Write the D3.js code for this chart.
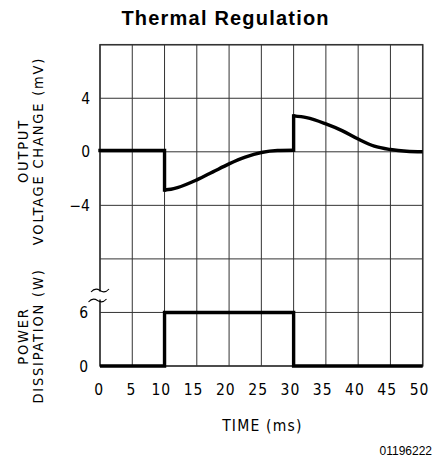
<!DOCTYPE html>
<html>
<head>
<meta charset="utf-8">
<script src="https://cdn.jsdelivr.net/npm/d3@7"></script>
<style>
  body { margin: 0; background: #fff; }
  .tech { font-family: "DejaVu Sans Condensed", "DejaVu Sans", sans-serif; font-stretch: condensed; fill: #000; }
</style>
</head>
<body>
<svg id="chart"></svg>
<script>
// time axis ticks (ms)
const timeTicks = [0, 5, 10, 15, 20, 25, 30, 35, 40, 45, 50];
// voltage (mV) grid ticks and labels
const voltGrid = [8, 4, 0, -4, -8];
const voltLabels = [4, 0, -4];
// power (W) ticks
const powerTicks = [0, 6];

// output voltage change
const voltFlatT = [0, 10, 10];
const voltFlatV = [0.1, 0.1, -2.85];
const voltRiseT = [10, 11, 12, 15, 17.5, 20, 22.5, 25, 27.5, 30];
const voltRiseV = [-2.85, -2.8, -2.68, -2.1, -1.5, -0.9, -0.4, -0.05, 0.1, 0.12];
const voltStepT = [30, 30];
const voltStepV = [0.12, 2.68];
const voltDecayT = [30, 32, 35, 37.5, 40, 42.5, 45, 47.5, 50];
const voltDecayV = [2.68, 2.55, 2.08, 1.58, 0.95, 0.42, 0.17, 0.04, 0];

// power dissipation pulse
const powerT = [0, 10, 10, 30, 30, 50];
const powerW = [0, 0, 6, 6, 0, 0];

const width = 441, height = 474;
const margin = { top: 44.7, right: 18.3, bottom: 108, left: 100 };
const plotW = width - margin.left - margin.right;
const plotH = height - margin.top - margin.bottom;
const rowH = plotH / 6;

const svg = d3.select("#chart").attr("width", width).attr("height", height);

const x = d3.scaleLinear().domain([0, 50]).range([margin.left, margin.left + plotW]);
const yV = d3.scaleLinear().domain([-8, 8]).range([margin.top + 4 * rowH, margin.top]);
const yP = d3.scaleLinear().domain([0, 6]).range([margin.top + plotH, margin.top + 5 * rowH]);

// grid
const grid = svg.append("g").attr("stroke", "#333").attr("stroke-width", 1);
grid.selectAll(".vline")
  .data(timeTicks)
  .join("line")
  .attr("class", "vline")
  .attr("x1", d => x(d)).attr("x2", d => x(d))
  .attr("y1", margin.top).attr("y2", margin.top + plotH);
grid.selectAll(".hv")
  .data(voltGrid)
  .join("line")
  .attr("class", "hv")
  .attr("x1", x(0)).attr("x2", x(50))
  .attr("y1", d => yV(d)).attr("y2", d => yV(d));
grid.selectAll(".hp")
  .data(powerTicks)
  .join("line")
  .attr("class", "hp")
  .attr("x1", x(0)).attr("x2", x(50))
  .attr("y1", d => yP(d)).attr("y2", d => yP(d));

svg.append("rect")
  .attr("x", x(0)).attr("y", margin.top)
  .attr("width", plotW).attr("height", plotH)
  .attr("fill", "none").attr("stroke", "#333").attr("stroke-width", 1.5);

// traces
const zipT = (ts, vs) => ts.map((t, i) => [t, vs[i]]);
const lineV = d3.line().x(d => x(d[0])).y(d => yV(d[1]));
const smoothV = d3.line().x(d => x(d[0])).y(d => yV(d[1])).curve(d3.curveMonotoneX);
const lineP = d3.line().x(d => x(d[0])).y(d => yP(d[1]));

const traces = svg.append("g")
  .attr("fill", "none").attr("stroke", "#000").attr("stroke-width", 3.4)
  .attr("stroke-linejoin", "miter").attr("stroke-linecap", "square");
traces.append("path").attr("d", lineV(zipT(voltFlatT, voltFlatV)));
traces.append("path").attr("d", smoothV(zipT(voltRiseT, voltRiseV))).attr("stroke-linecap", "butt");
traces.append("path").attr("d", lineV(zipT(voltStepT, voltStepV)));
traces.append("path").attr("d", smoothV(zipT(voltDecayT, voltDecayV))).attr("stroke-linecap", "butt");
traces.append("path").attr("d", lineP(zipT(powerT, powerW))).attr("stroke-linecap", "butt");

// axis break marks: gap in the left axis with two tildes
const bx = x(0);
svg.append("rect").attr("x", bx - 2).attr("y", 291.5).attr("width", 4).attr("height", 8).attr("fill", "#fff");
const brk = svg.append("g").attr("fill", "none").attr("stroke", "#000").attr("stroke-width", 1.1);
[[290.5, 0], [300.5, -2.5]].forEach(([yy, dx]) => {
  const x0 = bx + dx;
  brk.append("path")
    .attr("d", `M${x0 - 9},${yy + 1.5} C${x0 - 6},${yy - 2} ${x0 - 3},${yy - 2} ${x0},${yy} S${x0 + 6},${yy + 2} ${x0 + 9},${yy - 1.5}`);
});

// tick labels
svg.selectAll(".xt")
  .data(timeTicks)
  .join("text")
  .attr("class", "xt tech")
  .attr("x", d => x(d) + (d < 10 ? -0.8 : -3.2))
  .attr("y", 395)
  .attr("text-anchor", "middle")
  .attr("letter-spacing", 1)
  .attr("font-size", 15.5)
  .text(d => d);

svg.selectAll(".yvt")
  .data(voltLabels)
  .join("text")
  .attr("class", "yvt tech")
  .attr("x", x(0) - 10)
  .attr("y", d => yV(d))
  .attr("dy", "0.36em")
  .attr("text-anchor", "end")
  .attr("font-size", 15.5)
  .text(d => (d < 0 ? "\u2212" + Math.abs(d) : d));

svg.selectAll(".ypt")
  .data(powerTicks)
  .join("text")
  .attr("class", "ypt tech")
  .attr("x", x(0) - 12)
  .attr("y", d => yP(d))
  .attr("dy", "0.36em")
  .attr("text-anchor", "end")
  .attr("font-size", 15.5)
  .text(d => d);

// axis titles
const yTitle = (lines, cy) => {
  const t = svg.append("text")
    .attr("class", "tech")
    .attr("transform", `translate(30,${cy}) rotate(-90)`)
    .attr("text-anchor", "middle")
    .attr("font-size", 14.5)
    .attr("letter-spacing", 1.8);
  lines.forEach((s, i) => {
    t.append("tspan").attr("x", 0).attr("y", i === 0 ? -2 : 12.5).text(s);
  });
};
yTitle(["OUTPUT", "VOLTAGE CHANGE (mV)"], 151);
yTitle(["POWER", "DISSIPATION (W)"], 336);

svg.append("text")
  .attr("class", "tech")
  .attr("x", x(25) + 1)
  .attr("y", 431)
  .attr("text-anchor", "middle")
  .attr("font-size", 15.5)
  .attr("letter-spacing", 1.2)
  .text("TIME (ms)");

svg.append("text")
  .attr("x", 225.6)
  .attr("y", 25)
  .attr("text-anchor", "middle")
  .attr("font-family", "Liberation Sans, Arial, sans-serif")
  .attr("font-weight", "bold")
  .attr("font-size", 20)
  .attr("letter-spacing", 1.2)
  .text("Thermal Regulation");

svg.append("text")
  .attr("x", 432)
  .attr("y", 455)
  .attr("text-anchor", "end")
  .attr("font-family", "Liberation Sans, Arial, sans-serif")
  .attr("font-size", 12)
  .text("01196222");
</script>
</body>
</html>
